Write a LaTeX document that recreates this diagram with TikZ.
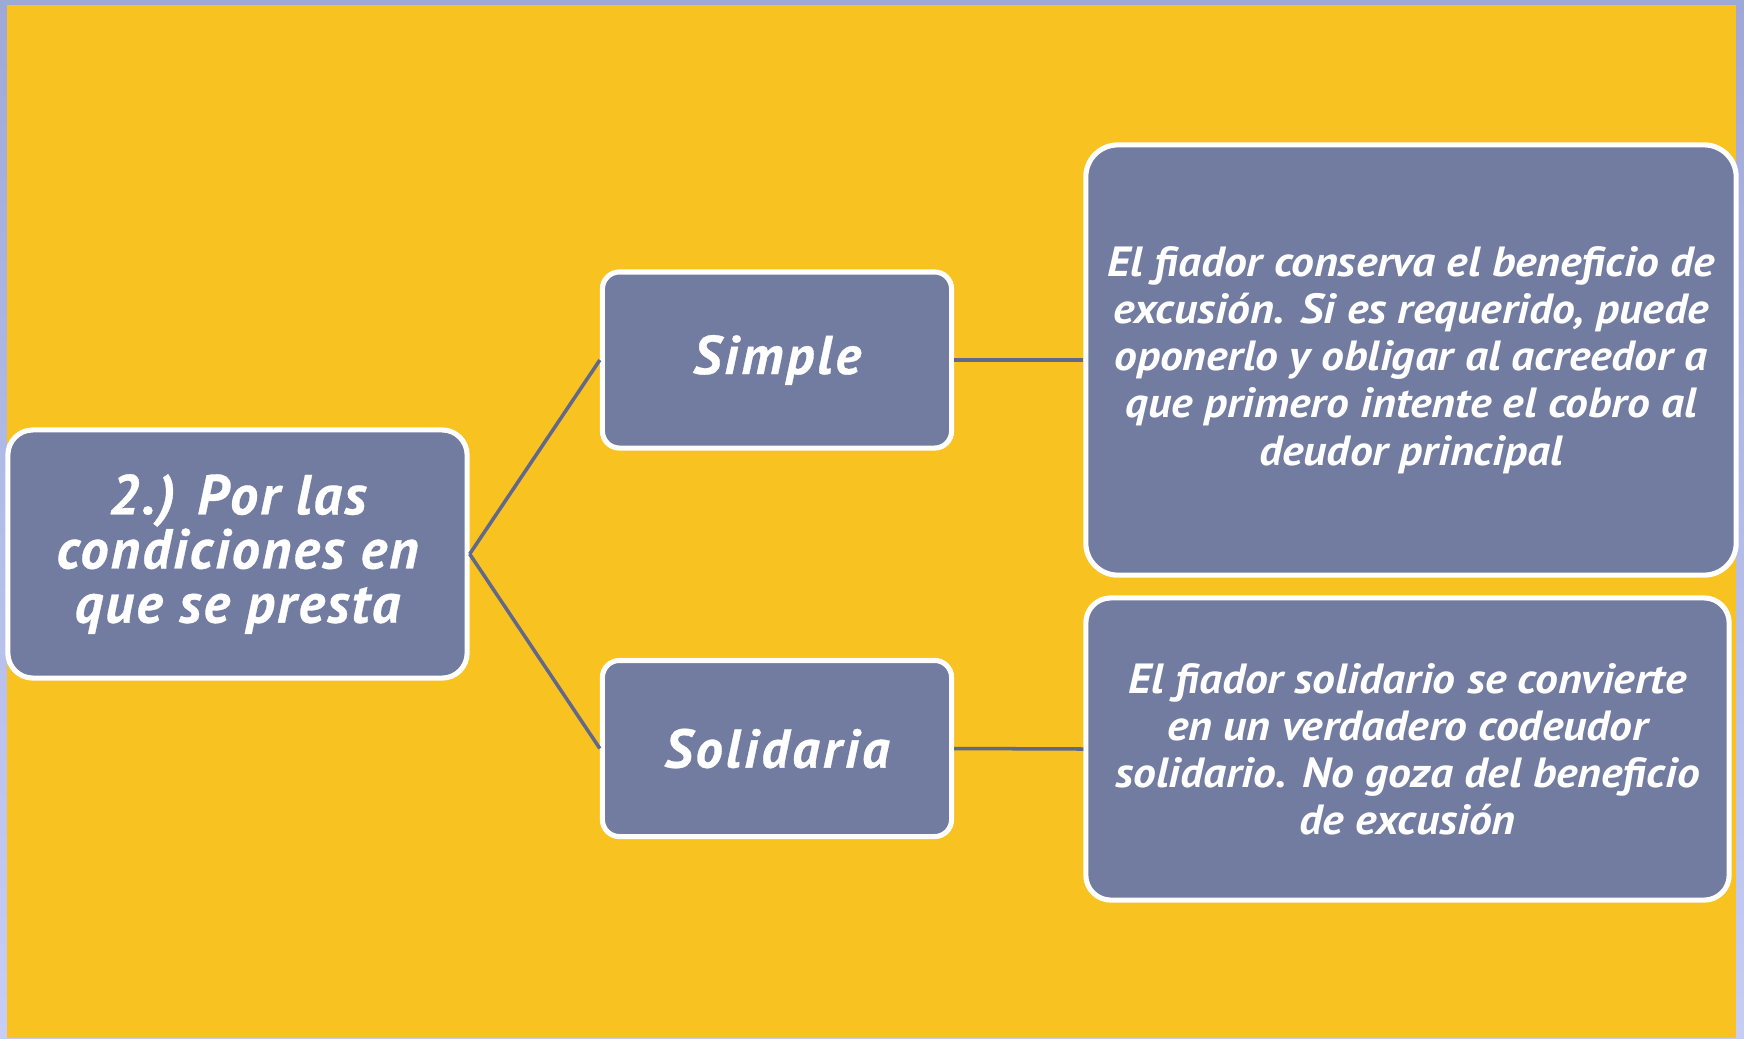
\documentclass[tikz,border=0pt]{standalone}
\usepackage{fontspec}
\setmainfont{PT Sans}
\definecolor{bgyellow}{HTML}{F8C220}
\definecolor{boxfill}{HTML}{727BA0}
\definecolor{linkcol}{HTML}{626889}
\definecolor{lavtop}{HTML}{A0A8DA}
\definecolor{lavbot}{HTML}{C6CEF6}
\tikzset{
  card/.style={draw=white, line width=1.45pt, fill=boxfill, text=white,
    align=center, inner sep=0pt},
  headfont/.style={font={\fontsize{16}{15.4}\selectfont\bfseries\itshape\addfontfeatures{LetterSpace=4,FakeBold=0.6}}},
  midfont/.style={font={\fontsize{15.5}{15}\selectfont\bfseries\itshape\addfontfeatures{LetterSpace=6,FakeBold=0.6}}},
  bodyfont/.style={font={\fontsize{12}{13.4}\selectfont\bfseries\itshape\addfontfeatures{FakeStretch=1.08}}},
  link/.style={draw=linkcol, line width=1pt}
}
\begin{document}
\begin{tikzpicture}[x=0.01cm,y=-0.01cm]
\useasboundingbox (0,0) rectangle (1744,1038);
\shade[top color=lavtop, bottom color=lavbot] (0,0) rectangle (1744,1038);
\fill[bgyellow] (7,5) rectangle (1736,1038);

\node[card, headfont, rounded corners=25*0.01cm, minimum width=4.59cm, minimum height=2.48cm] (root) at (237.5,554) {2.) Por las\\condiciones en\\que se presta};
\node[card, midfont, rounded corners=17*0.01cm, minimum width=3.49cm, minimum height=1.76cm] (simple) at (777,360) {Simple};
\node[card, midfont, rounded corners=17*0.01cm, minimum width=3.49cm, minimum height=1.76cm] (solid) at (777,748.5) {Solidaria};
\node[card, bodyfont, rounded corners=32*0.01cm, minimum width=6.50cm, minimum height=4.30cm] (simdesc) at (1411,360) {El fiador conserva el beneficio de\\excusión. Si es requerido, puede\\oponerlo y obligar al acreedor a\\que primero intente el cobro al\\deudor principal};
\node[card, bodyfont, rounded corners=25*0.01cm, minimum width=6.43cm, minimum height=3.02cm] (soldesc) at (1407.5,749) {El fiador solidario se convierte\\en un verdadero codeudor\\solidario. No goza del beneficio\\de excusión};

\draw[link] (root.east) -- (simple.west);
\draw[link] (root.east) -- (solid.west);
\draw[link] (simple.east) -- (simdesc.west);
\draw[link] (solid.east) -- (soldesc.west);
\end{tikzpicture}
\end{document}
